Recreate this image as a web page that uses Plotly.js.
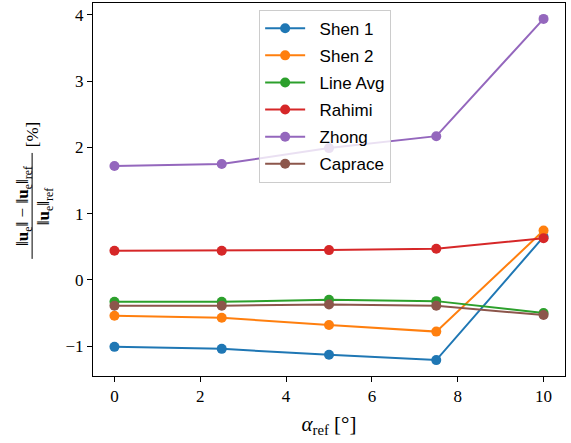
<!DOCTYPE html>
<html><head><meta charset="utf-8">
<script src="https://cdn.plot.ly/plotly-3.0.1.min.js"></script>
<style>html,body{margin:0;padding:0;background:#fff;}#chart{width:571px;height:443px;}</style>
</head><body><div id="chart"></div>
<script>
const alphaRef = [0, 2.5, 5, 7.5, 10];
const seriesNames = ["Shen 1", "Shen 2", "Line Avg", "Rahimi", "Zhong", "Caprace"];
const shen1   = [-1.01, -1.04, -1.13, -1.21, 0.65];
const shen2   = [-0.54, -0.57, -0.68, -0.78, 0.745];
const lineAvg = [-0.33, -0.33, -0.30, -0.32, -0.50];
const rahimi  = [0.44, 0.44, 0.45, 0.47, 0.63];
const zhong   = [1.72, 1.75, 1.99, 2.17, 3.94];
const caprace = [-0.39, -0.39, -0.37, -0.39, -0.53];
const xTicks = [0, 2, 4, 6, 8, 10];
const yTicks = [-1, 0, 1, 2, 3, 4];

const colors = ["#1f77b4", "#ff7f0e", "#2ca02c", "#d62728", "#9467bd", "#8c564b"];
const allY = [shen1, shen2, lineAvg, rahimi, zhong, caprace];

const traces = allY.map((ys, i) => ({
  x: alphaRef, y: ys, name: "\u00a0\u00a0" + seriesNames[i], type: "scatter", mode: "lines+markers",
  line: {color: colors[i], width: 2}, marker: {color: colors[i], size: 10},
  legendgroup: "g" + i
}));

const serif = "'Liberation Serif', 'DejaVu Serif', serif";
const sans = "'Liberation Sans', 'DejaVu Sans', sans-serif";

const layout = {
  width: 571, height: 443,
  margin: {l: 93, r: 6, t: 3, b: 67},
  paper_bgcolor: "#fff", plot_bgcolor: "#fff",
  showlegend: true,
  legend: {
    x: 0.352, y: 0.982, xanchor: "left", yanchor: "top",
    bgcolor: "rgba(255,255,255,0.8)", bordercolor: "#cccccc", borderwidth: 1,
    font: {family: sans, size: 17, color: "#000"},
    tracegroupgap: 2, itemwidth: 40
  },
  xaxis: {
    range: [-0.5, 10.5], tickvals: xTicks, ticktext: xTicks.map(String),
    ticks: "outside", ticklen: 5, tickwidth: 1, tickcolor: "#000",
    showgrid: false, zeroline: false, showline: true, linecolor: "#000", linewidth: 1, mirror: true,
    tickfont: {family: serif, size: 17, color: "#000"},
    title: {text: "<i>α</i><sub>ref</sub> [°]", font: {family: serif, size: 21, color: "#000"}, standoff: 10}
  },
  yaxis: {
    range: [-1.45, 4.18], tickvals: yTicks, ticktext: yTicks.map(v => v < 0 ? "\u2212" + Math.abs(v) : String(v)),
    ticks: "outside", ticklen: 5, tickwidth: 1, tickcolor: "#000",
    showgrid: false, zeroline: false, showline: true, linecolor: "#000", linewidth: 1, mirror: true,
    tickfont: {family: serif, size: 17, color: "#000"}
  },
  annotations: [
    {xref: "paper", yref: "paper", x: -0.146, y: 0.456, xanchor: "center", yanchor: "middle",
     text: "‖<b>u</b><sub>e</sub>‖ − ‖<b>u</b><sub>e</sub>‖<sub>ref</sub>", textangle: -90, showarrow: false,
     font: {family: serif, size: 17, color: "#000"}},
    {xref: "paper", yref: "paper", x: -0.101, y: 0.456, xanchor: "center", yanchor: "middle",
     text: "‖<b>u</b><sub>e</sub>‖<sub>ref</sub>", textangle: -90, showarrow: false,
     font: {family: serif, size: 17, color: "#000"}},
    {xref: "paper", yref: "paper", x: -0.128, y: 0.647, xanchor: "center", yanchor: "middle",
     text: "[%]", textangle: -90, showarrow: false,
     font: {family: serif, size: 17, color: "#000"}}
  ],
  shapes: [
    {type: "line", xref: "paper", yref: "paper", x0: -0.129, x1: -0.129, y0: 0.314, y1: 0.598,
     line: {color: "#000", width: 1}}
  ]
};

Plotly.newPlot("chart", traces, layout, {displayModeBar: false, staticPlot: true});
</script>
</body></html>
